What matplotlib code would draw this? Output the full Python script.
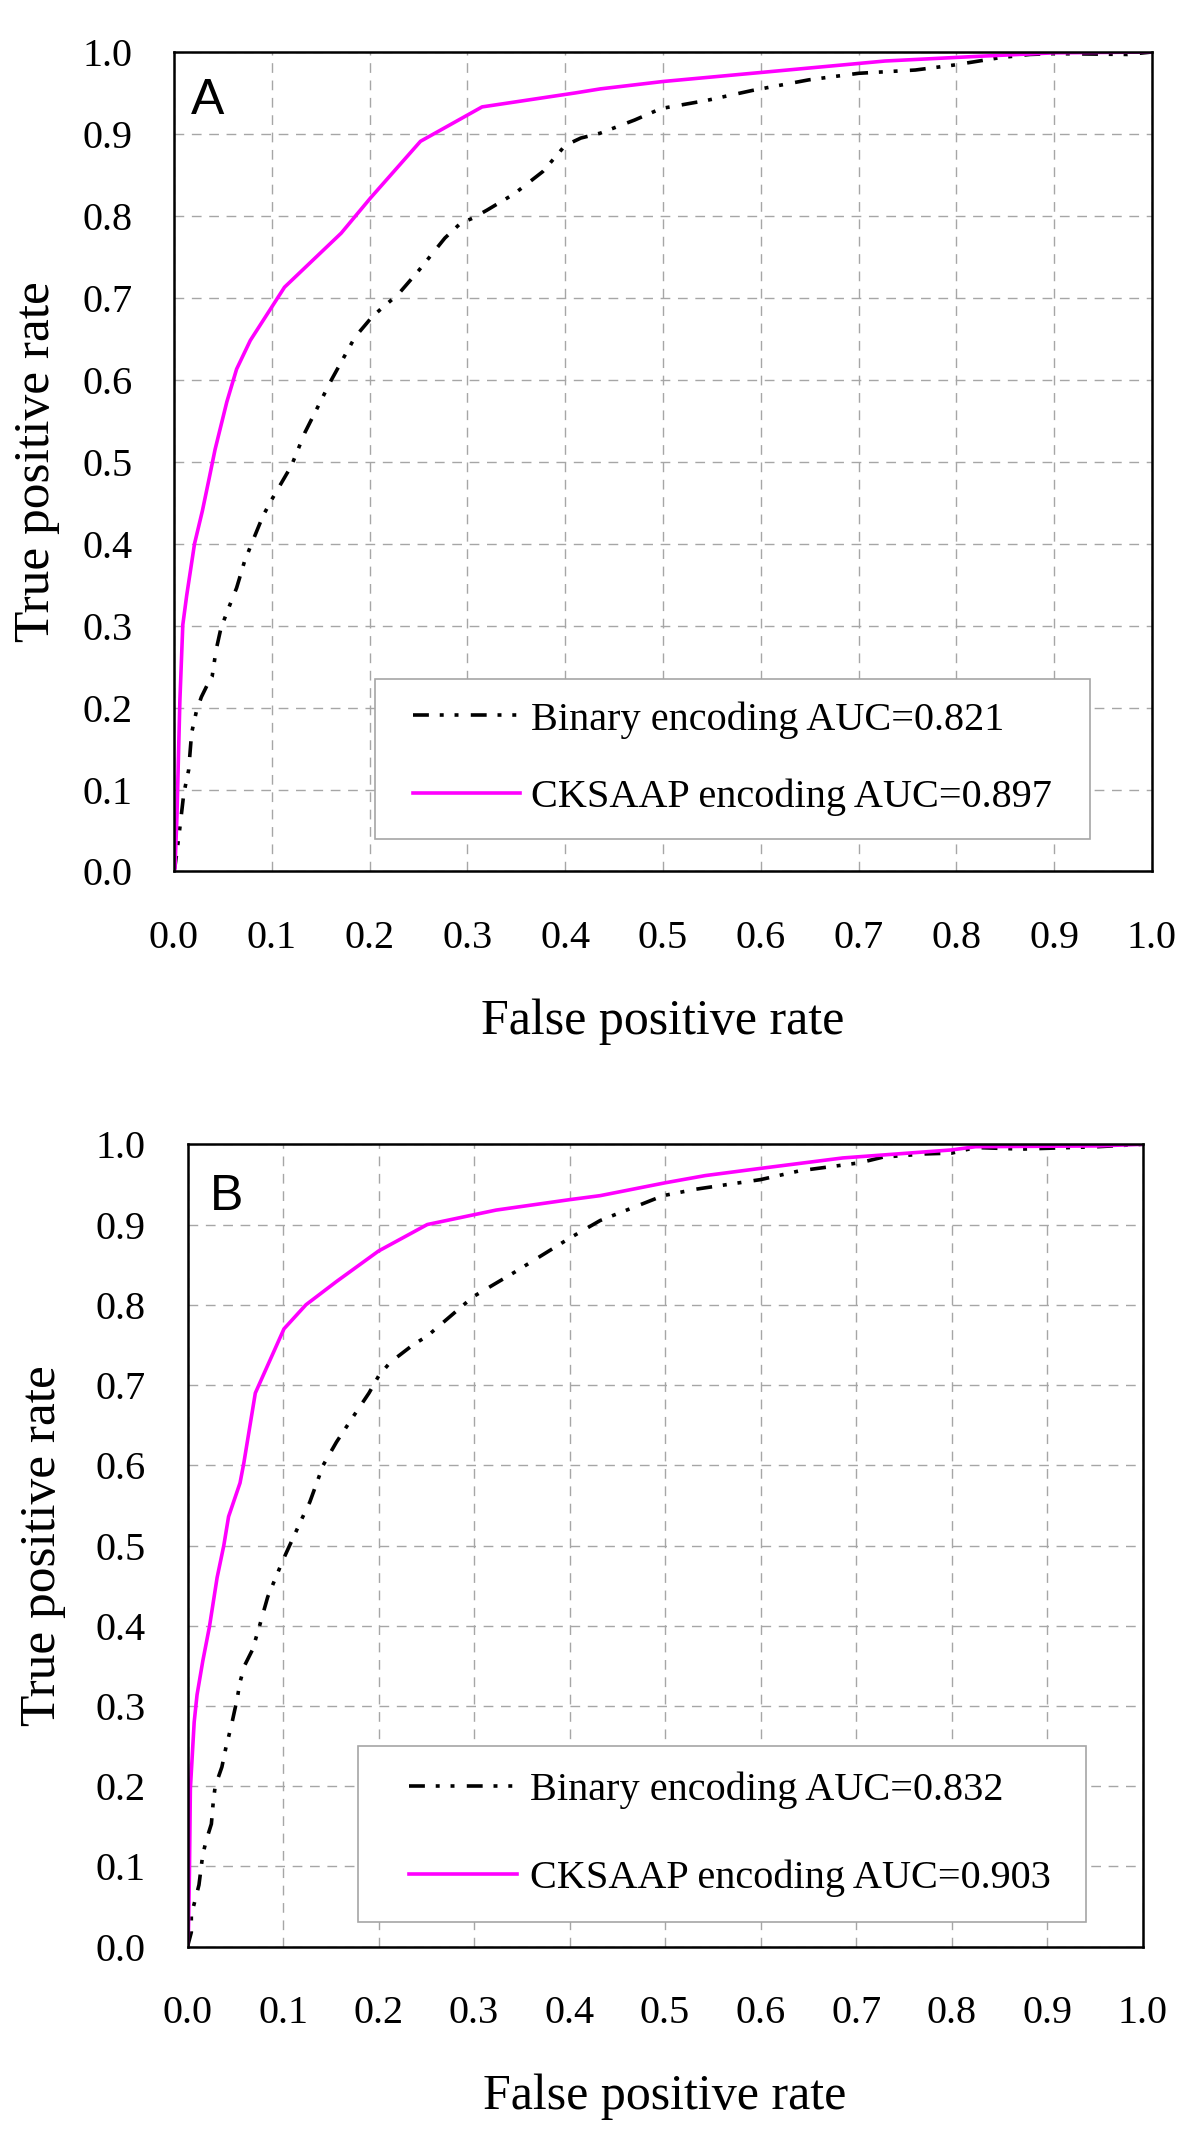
import matplotlib
matplotlib.use("Agg")
import matplotlib.pyplot as plt
from matplotlib.lines import Line2D
from matplotlib.legend_handler import HandlerLine2D

# ---- data ----
a_bin_fpr = [0.0, 0.001, 0.005, 0.010, 0.015, 0.018, 0.023, 0.028, 0.035, 0.039, 0.043,
             0.048, 0.056, 0.064, 0.072, 0.080, 0.091, 0.100, 0.120, 0.134, 0.161, 0.185,
             0.202, 0.213, 0.229, 0.250, 0.277, 0.293, 0.305, 0.320, 0.348, 0.377, 0.400,
             0.416, 0.436, 0.471, 0.498, 0.545, 0.591, 0.649, 0.700, 0.758, 0.797, 0.844,
             0.875, 0.900, 0.975, 1.0]
a_bin_tpr = [0.0, 0.006, 0.043, 0.095, 0.124, 0.169, 0.196, 0.213, 0.230, 0.238, 0.270,
             0.297, 0.322, 0.346, 0.378, 0.402, 0.434, 0.454, 0.495, 0.536, 0.600, 0.652,
             0.676, 0.688, 0.704, 0.733, 0.773, 0.791, 0.797, 0.807, 0.827, 0.854, 0.886,
             0.895, 0.901, 0.917, 0.931, 0.941, 0.953, 0.966, 0.974, 0.978, 0.984, 0.993,
             0.997, 0.998, 0.997, 1.0]
a_ck_fpr = [0.0, 0.001, 0.003, 0.006, 0.009, 0.013, 0.021, 0.029, 0.036, 0.042, 0.054,
            0.064, 0.078, 0.113, 0.171, 0.201, 0.252, 0.315, 0.410, 0.436, 0.500, 0.600,
            0.727, 0.827, 0.900, 1.0]
a_ck_tpr = [0.0, 0.004, 0.067, 0.208, 0.301, 0.337, 0.400, 0.440, 0.480, 0.515, 0.573,
            0.613, 0.648, 0.713, 0.779, 0.822, 0.891, 0.933, 0.950, 0.955, 0.964, 0.975,
            0.989, 0.995, 0.999, 1.0]

b_bin_fpr = [0.0, 0.004, 0.004, 0.008, 0.012, 0.016, 0.020, 0.025, 0.027, 0.029, 0.036,
             0.040, 0.046, 0.052, 0.055, 0.060, 0.068, 0.075, 0.084, 0.100, 0.120, 0.128,
             0.142, 0.156, 0.172, 0.190, 0.200, 0.212, 0.236, 0.251, 0.299, 0.343, 0.400,
             0.432, 0.464, 0.498, 0.532, 0.600, 0.641, 0.704, 0.728, 0.772, 0.800, 0.825,
             0.873, 0.953, 1.0]
b_bin_tpr = [0.0, 0.018, 0.040, 0.058, 0.077, 0.115, 0.134, 0.153, 0.181, 0.200, 0.224,
             0.247, 0.276, 0.309, 0.330, 0.351, 0.370, 0.398, 0.436, 0.482, 0.534, 0.554,
             0.600, 0.629, 0.658, 0.690, 0.711, 0.728, 0.750, 0.761, 0.810, 0.841, 0.883,
             0.905, 0.920, 0.936, 0.944, 0.956, 0.967, 0.977, 0.984, 0.988, 0.989, 0.996,
             0.994, 0.997, 1.0]
b_ck_fpr = [0.0, 0.001, 0.002, 0.003, 0.007, 0.010, 0.016, 0.023, 0.031, 0.038, 0.043,
            0.055, 0.059, 0.071, 0.101, 0.124, 0.156, 0.200, 0.251, 0.323, 0.400, 0.432,
            0.500, 0.542, 0.600, 0.686, 0.800, 0.825, 0.953, 1.0]
b_ck_tpr = [0.0, 0.020, 0.091, 0.197, 0.280, 0.314, 0.356, 0.399, 0.460, 0.500, 0.536,
            0.578, 0.603, 0.690, 0.770, 0.800, 0.829, 0.867, 0.900, 0.918, 0.931, 0.936,
            0.952, 0.961, 0.970, 0.983, 0.993, 0.997, 0.998, 1.0]

ticks = [i / 10 for i in range(11)]
tick_labels = [f"{t:.1f}" for t in ticks]

panels = [
    dict(letter="A", bin=(a_bin_fpr, a_bin_tpr), ck=(a_ck_fpr, a_ck_tpr),
         labels=("Binary encoding AUC=0.821", "CKSAAP encoding AUC=0.897")),
    dict(letter="B", bin=(b_bin_fpr, b_bin_tpr), ck=(b_ck_fpr, b_ck_tpr),
         labels=("Binary encoding AUC=0.832", "CKSAAP encoding AUC=0.903")),
]

# ---- layout (figure fractions) ----
W, H = 1200, 2146
rects = [
    [174 / W, 1 - 871.5 / H, 978 / W, 819.5 / H],
    [187.5 / W, 1 - 1946.7 / H, 955.2 / W, 802.4 / H],
]
legend_box = [(0.206, 0.235, 0.731), (0.178, 0.250, 0.763)]
legend_opts = [
    dict(borderpad=0.55, labelspacing=1.0, handlelength=3.05, handletextpad=0.25, xpad=0.37),
    dict(borderpad=0.63, labelspacing=1.25, handlelength=3.33, handletextpad=0.31, xpad=0.65),
]
letter_pos = [(0.017, 0.924), (0.0236, 0.918)]
ylabel_pad = [16, 21]

SERIF = "Liberation Serif"
SANS = "Liberation Sans"
MAGENTA = "#FF00FF"
GRID = "#a6a6a6"
BIN_DASH = (4.4, 3.0, 1.1, 3.0, 1.1, 3.4)

plt.rcParams["font.family"] = [SERIF, "DejaVu Serif"]

fig = plt.figure(figsize=(W / 100, H / 100), dpi=100)

for i, p in enumerate(panels):
    ax = fig.add_axes(rects[i])
    ax.set_xlim(0, 1)
    ax.set_ylim(0, 1)

    ax.plot(*p["bin"], color="black", lw=2.6, dashes=BIN_DASH, label=p["labels"][0], zorder=3)
    ax.plot(*p["ck"], color=MAGENTA, lw=2.6, label=p["labels"][1], zorder=4)

    ax.set_xticks(ticks)
    ax.set_xticklabels(tick_labels)
    ax.set_yticks(ticks)
    ax.set_yticklabels(tick_labels)
    ax.tick_params(axis="both", length=0, labelsize=29)
    ax.tick_params(axis="x", pad=35)
    ax.tick_params(axis="y", pad=30)

    ax.grid(True, color=GRID, lw=1.0, dashes=(7, 5.5), zorder=1)
    ax.set_axisbelow(True)
    for s in ax.spines.values():
        s.set_linewidth(1.8)
        s.set_color("black")
        s.set_zorder(5)

    ax.set_xlabel("False positive rate", fontsize=36, labelpad=30)
    ax.set_ylabel("True positive rate", fontsize=37, labelpad=ylabel_pad[i])

    ax.text(*letter_pos[i], p["letter"], transform=ax.transAxes, fontsize=36,
            family=SANS, ha="left", va="baseline")

    lo = legend_opts[i]
    x0, y0, w = legend_box[i]
    leg = ax.legend(loc="upper left", bbox_to_anchor=(x0, y0, w, 0), mode="expand",
                    borderaxespad=0, fontsize=29, frameon=True, fancybox=False,
                    framealpha=1, edgecolor=GRID, borderpad=lo["borderpad"],
                    labelspacing=lo["labelspacing"], handlelength=lo["handlelength"],
                    handletextpad=lo["handletextpad"],
                    handler_map={Line2D: HandlerLine2D(xpad=lo["xpad"])})
    leg.get_frame().set_linewidth(1.2)
    leg.set_zorder(6)

fig.savefig("out.png", dpi=100)
